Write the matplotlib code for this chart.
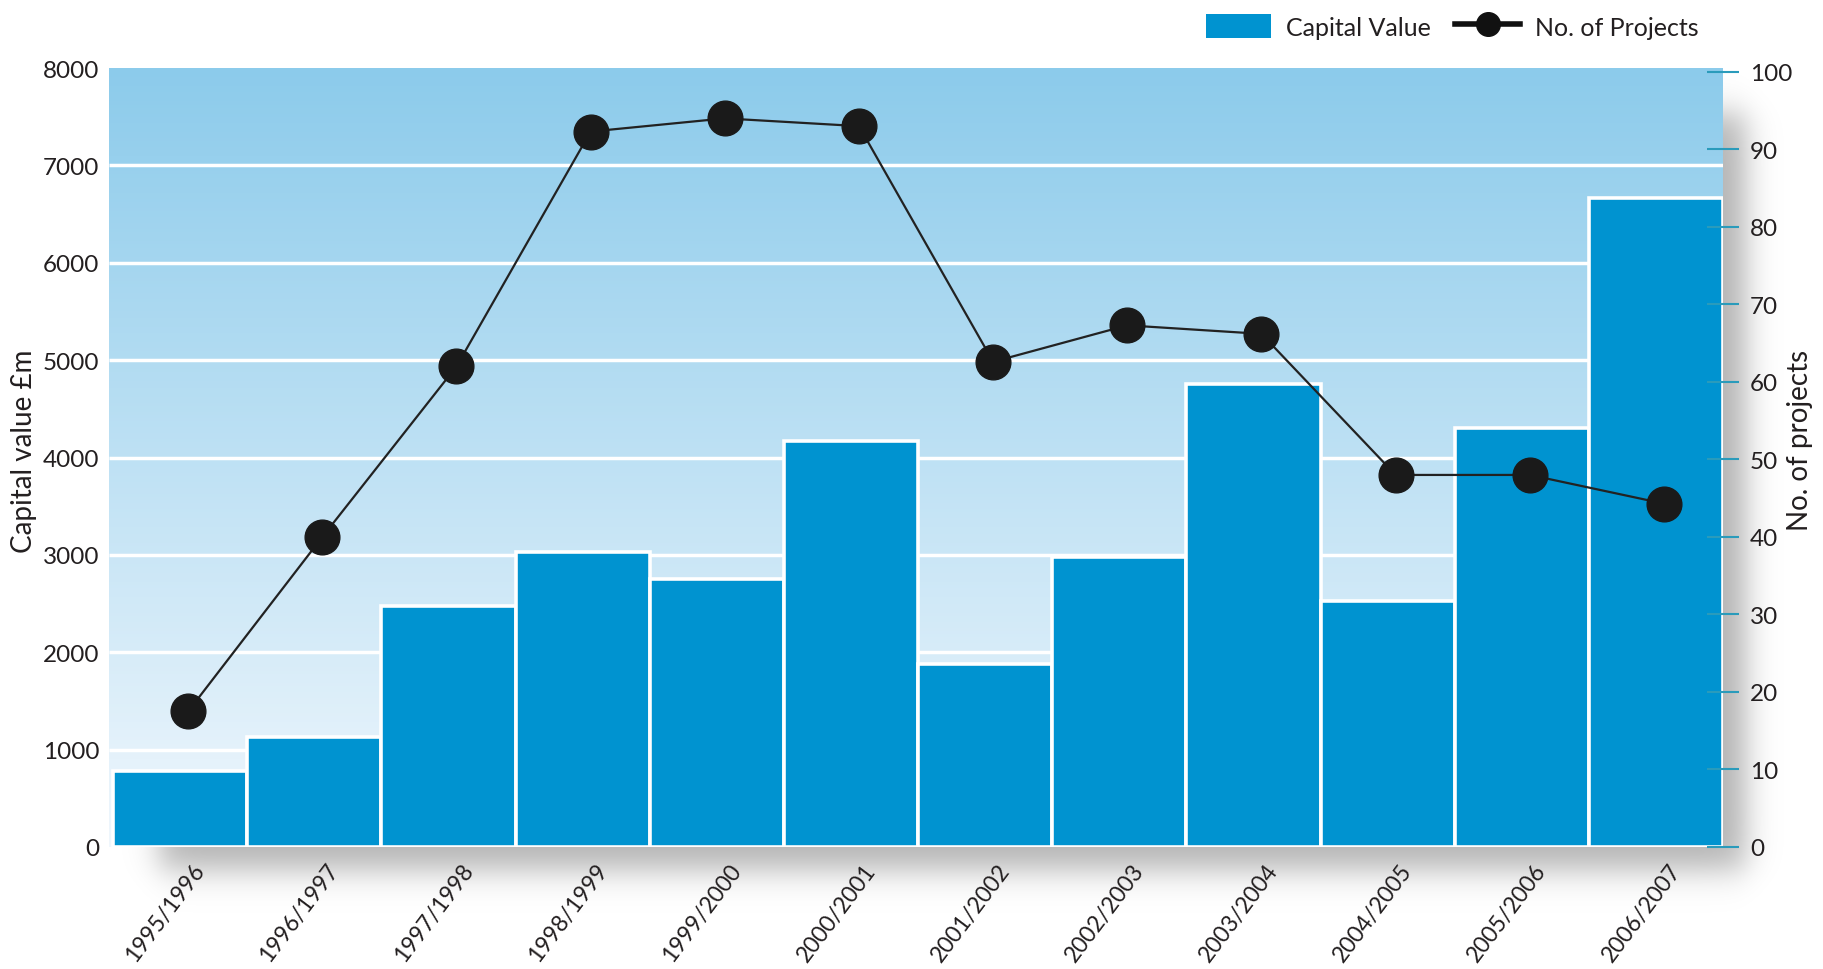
# Capital value and number of projects, 1995/96 - 2006/07

import numpy as np
import matplotlib.pyplot as plt
from matplotlib.patches import Patch
from matplotlib.lines import Line2D
from matplotlib.transforms import ScaledTranslation

years = ['1995/1996', '1996/1997', '1997/1998', '1998/1999', '1999/2000', '2000/2001',
         '2001/2002', '2002/2003', '2003/2004', '2004/2005', '2005/2006', '2006/2007']
capital_value = [780, 1130, 2480, 3030, 2750, 4170, 1880, 2980, 4750, 2530, 4300, 6670]
projects = [17.5, 40, 62, 92.3, 94, 93, 62.6, 67.3, 66.2, 48, 48, 44.3]

left_ticks = list(range(0, 8001, 1000))
right_ticks = list(range(0, 101, 10))

plt.rcParams['font.family'] = ['Lato', 'DejaVu Sans']
txt = '#231f20'
blue = '#0093d0'

W, H = 1823, 970
L, R, T, B = 109, 1723, 69, 848   # plot box in pixels

fig = plt.figure(figsize=(W / 100, H / 100), dpi=100)

# soft grey shadow behind the plot box
sh = fig.add_axes([0, 0, 1, 1], zorder=0)
xx = np.arange(W)[None, :]
yy = np.arange(H)[:, None]


def soft(v, a, b, s):
    return 0.5 * (np.tanh((v - a) / s) - np.tanh((v - b) / s))


img = np.zeros((H, W, 4))
img[..., 3] = 0.3 * soft(xx, L + 50, R + 22, 18) * soft(yy, T + 45, B + 22, 20)
sh.imshow(img, aspect='auto', interpolation='bilinear')
sh.set_axis_off()

ax = fig.add_axes([L / W, 1 - B / H, (R - L) / W, (B - T) / H], zorder=1)
x = np.arange(len(years))
x0, x1 = -0.53, len(years) - 0.5

# gradient background
c_top = np.array([140, 203, 235]) / 255
c_bot = np.array([240, 247, 253]) / 255
t = np.linspace(0, 1, 256)[:, None]
grad = (c_top * (1 - t) + c_bot * t)[:, None, :]
ax.imshow(grad, extent=(x0, x1, 0, 8000), aspect='auto', zorder=0)

ax.hlines(left_ticks[1:-1], x0, x1, color='white', lw=2.5, zorder=0.5)
ax.bar(x, capital_value, width=1.0, color=blue, edgecolor='white', lw=2.6, zorder=1)

ax.set_xlim(x0, x1)
ax.set_ylim(0, 8000)
ax.set_yticks(left_ticks)
ax.tick_params(axis='y', length=0, pad=7, labelsize=17.5, labelcolor=txt)
ax.set_xticks(x)
ax.set_xticklabels(years, rotation=53, ha='right', va='top', rotation_mode='anchor')
ax.tick_params(axis='x', length=0, pad=9, labelsize=16.5, labelcolor=txt)
for lab in ax.get_xticklabels():
    lab.set_transform(lab.get_transform() + ScaledTranslation(0.12, 0, fig.dpi_scale_trans))
for s in ax.spines.values():
    s.set_visible(False)

ax2 = ax.twinx()
ax2.set_zorder(2)
ax2.plot(x + 0.06, projects, color='#222222', lw=1.6, marker='o', ms=25,
         mfc='#1a1a1a', mec='#1a1a1a', clip_on=False)
ax2.set_ylim(0, 100.5)
ax2.set_yticks(right_ticks)
ax2.tick_params(axis='y', direction='inout', length=23, width=1.5, color='#2a9bbb',
                pad=8, labelsize=17.5, labelcolor=txt)
for s in ax2.spines.values():
    s.set_visible(False)

fig.text(24 / W, 1 - 451 / H, 'Capital value £m', rotation=90, ha='center', va='center',
         fontsize=20, color=txt)
fig.text(1800 / W, 1 - 440 / H, 'No. of projects', rotation=90, ha='center', va='center',
         fontsize=20, color=txt)

handles = [Patch(facecolor=blue, label='Capital Value'),
           Line2D([0], [0], color='#111111', lw=4, marker='o', ms=17, label='No. of Projects')]
fig.legend(handles=handles, loc='upper right', bbox_to_anchor=(1714 / W, 1.0), ncol=2,
           frameon=False, fontsize=18, handlelength=2.6, handleheight=1.1,
           columnspacing=1.0, handletextpad=0.6, borderaxespad=0.2, labelcolor=txt)

fig.savefig('out.png', dpi=100)
